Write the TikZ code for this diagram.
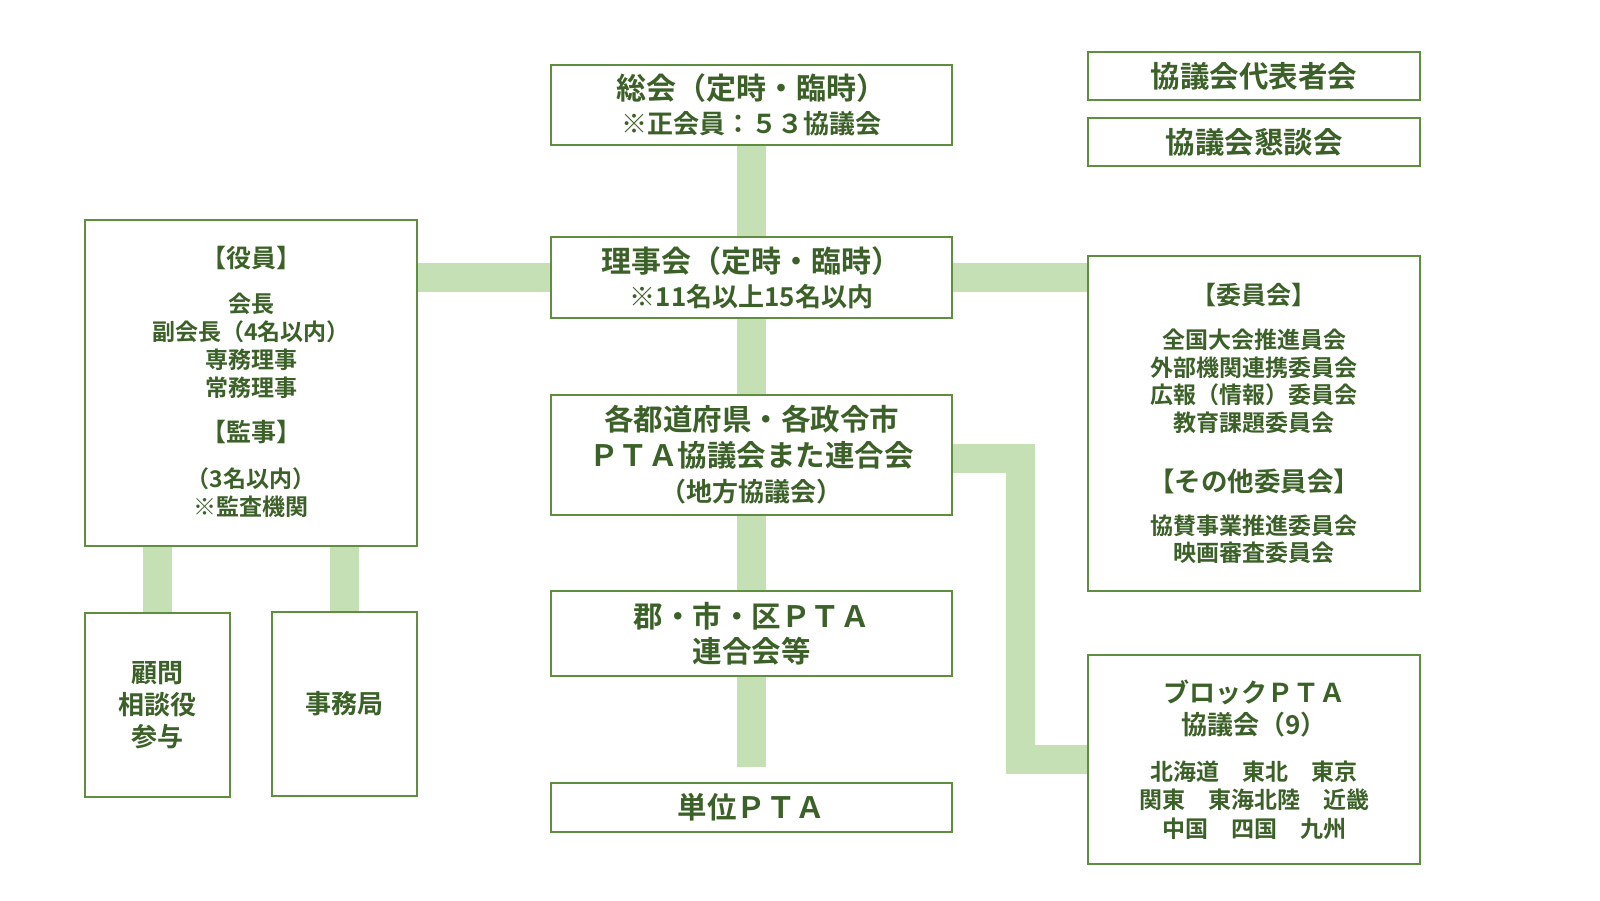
\documentclass[tikz,border=0pt]{standalone}
\usepackage{fontspec}
\setmainfont{Noto Sans CJK JP}[BoldFont={Noto Sans CJK JP Bold}]
\usetikzlibrary{backgrounds}
\definecolor{txt}{HTML}{3C6128}
\definecolor{bord}{HTML}{5E8E3E}
\definecolor{barcol}{HTML}{C5E0B4}
\newcommand\fsz[2]{\fontsize{#1}{#2}\selectfont\bfseries}
\tikzset{
  box/.style={draw=bord, line width=1.4pt, fill=white, inner sep=0pt, align=center, text=txt},
  conn/.style={draw=barcol, line width=29pt, line join=miter, line cap=butt},
}
\begin{document}
\begin{tikzpicture}[x=1pt,y=-1pt]
\useasboundingbox (0,0) rectangle (1600,900);

% central column
\node[box, minimum width=401pt, minimum height=80pt, font=\fsz{26}{34}] (soukai) at (751.5,105)
  {{\fsz{30}{34}総会（定時・臨時）}\\※正会員：５３協議会};
\node[box, minimum width=401pt, minimum height=81pt, font=\fsz{26}{34}] (rijikai) at (751.5,277.5)
  {{\fsz{30}{34}理事会（定時・臨時）}\\※11名以上15名以内};
\node[box, minimum width=401pt, minimum height=120pt, font=\fsz{29.5}{35.5}] (todofuken) at (751.5,455)
  {各都道府県・各政令市\\ＰＴＡ協議会また連合会\\{\fsz{26}{35.5}（地方協議会）}};
\node[box, minimum width=401pt, minimum height=85pt, font=\fsz{29.5}{35.5}] (gun) at (751.5,633.5)
  {郡・市・区ＰＴＡ\\連合会等};
\node[box, minimum width=401pt, minimum height=49pt, font=\fsz{29.5}{34}] (tani) at (751.5,807.5)
  {単位ＰＴＡ};

% top right
\node[box, minimum width=332pt, minimum height=48pt, font=\fsz{29.5}{34}] (daihyo) at (1254,76)
  {協議会代表者会};
\node[box, minimum width=332pt, minimum height=48pt, font=\fsz{29.5}{34}] (kondan) at (1254,142)
  {協議会懇談会};

% left
\node[box, minimum width=332pt, minimum height=326pt, font=\fsz{23}{27.8}] (yakuin) at (251,383)
  {{\fsz{25}{27.8}【役員】}\\[17pt]会長\\副会長（4名以内）\\専務理事\\常務理事\\[18pt]{\fsz{25}{27.8}【監事】}\\[18pt]（3名以内）\\※監査機関\\[-24pt]};
\node[box, minimum width=145pt, minimum height=184pt, font=\fsz{26}{32}] (komon) at (157.5,705)
  {顧問\\相談役\\参与};
\node[box, minimum width=145pt, minimum height=184pt, font=\fsz{26}{32}] (jimu) at (344.5,704)
  {事務局};

% right
\node[box, minimum width=332pt, minimum height=335pt, font=\fsz{23}{27.5}] (iinkai) at (1254,423.5)
  {{\fsz{25}{27.5}【委員会】}\\[16.5pt]全国大会推進員会\\外部機関連携委員会\\広報（情報）委員会\\教育課題委員会\\[32.5pt]{\fsz{26.5}{27.5}【その他委員会】}\\[15.5pt]協賛事業推進委員会\\映画審査委員会};
\node[box, minimum width=332pt, minimum height=209pt, font=\fsz{23}{28.5}] (block) at (1254,759.5)
  {{\fsz{26}{28.5}ブロックＰＴＡ}\\[3pt]{\fsz{26}{28.5}協議会（9）}\\[17.5pt]北海道　東北　東京\\関東　東海北陸　近畿\\中国　四国　九州};

\coordinate (gunend) at (751.5,767);
\coordinate (elb) at (1020.5,0);
\coordinate (elbstart) at ([yshift=-3.5pt]todofuken.east);

\begin{pgfonlayer}{background}
\draw[conn] (soukai.south) -- (rijikai.north);
\draw[conn] (rijikai.south) -- (todofuken.north);
\draw[conn] (todofuken.south) -- (gun.north);
\draw[conn] (gun.south) -- (gunend);
\draw[conn] (rijikai.west -| yakuin.east) -- (rijikai.west);
\draw[conn] (rijikai.east) -- (rijikai.east -| iinkai.west);
\draw[conn] (komon.north |- yakuin.south) -- (komon.north);
\draw[conn] (jimu.north |- yakuin.south) -- (jimu.north);
\draw[conn] (elbstart) -- (elbstart -| elb) -- (elb |- block.west) -- (block.west);
\end{pgfonlayer}
\end{tikzpicture}
\end{document}
